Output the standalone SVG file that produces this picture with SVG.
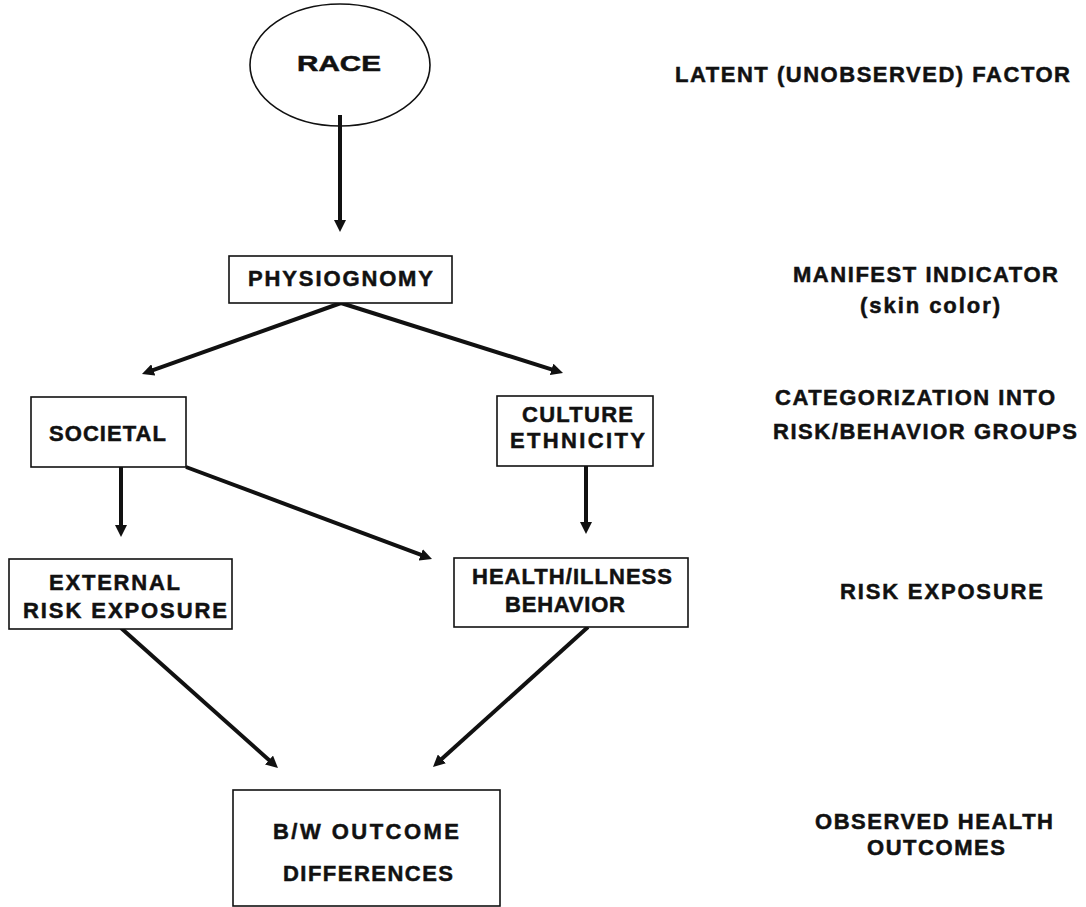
<svg xmlns="http://www.w3.org/2000/svg" width="1086" height="907" viewBox="0 0 1086 907">
<style>
  .box { fill: #fff; stroke: #111; stroke-width: 1.6; }
  .t { font-family: "Liberation Sans", Arial, sans-serif; font-weight: bold; font-size: 22px; fill: #111; stroke: #111; stroke-width: 0.5; }
  .c { text-anchor: middle; }
  .edge { stroke: #111; stroke-width: 4; fill: none; marker-end: url(#ah); }
</style>
<defs>
  <marker id="ah" viewBox="0 0 12 12" markerWidth="12" markerHeight="12" refX="4" refY="6" orient="auto" markerUnits="userSpaceOnUse">
    <path d="M0,0 L12,6 L0,12 z" fill="#111"/>
  </marker>
</defs>
<rect width="1086" height="907" fill="#fff"/>

<g id="connectors">
  <line class="edge" x1="340" y1="115" x2="340" y2="224"/>
  <line class="edge" x1="341" y1="303" x2="149.5" y2="371.3"/>
  <line class="edge" x1="341" y1="303" x2="555.4" y2="370.6"/>
  <line class="edge" x1="121" y1="467" x2="121" y2="529"/>
  <line class="edge" x1="186" y1="467" x2="424.5" y2="556.2"/>
  <line class="edge" x1="586" y1="466" x2="586" y2="526"/>
  <line class="edge" x1="121" y1="628" x2="272" y2="762.7"/>
  <line class="edge" x1="588" y1="627" x2="438.9" y2="761.6"/>
</g>

<g id="race">
  <ellipse cx="340" cy="65" rx="90" ry="61" fill="none" stroke="#111" stroke-width="1.6"/>
  <text class="t c" x="339" y="71" font-size="31" textLength="84" lengthAdjust="spacingAndGlyphs">RACE</text>
</g>

<g id="physiognomy">
  <rect class="box" x="229" y="256" width="223" height="47"/>
  <text class="t c" x="340.5" y="286" textLength="185" lengthAdjust="spacing">PHYSIOGNOMY</text>
</g>

<g id="societal">
  <rect class="box" x="31" y="397" width="155" height="70"/>
  <text class="t c" x="107.5" y="441" textLength="117" lengthAdjust="spacing">SOCIETAL</text>
</g>

<g id="culture">
  <rect class="box" x="497" y="396" width="156" height="70"/>
  <text class="t c" x="577.5" y="422" textLength="111" lengthAdjust="spacing">CULTURE</text>
  <text class="t c" x="577.5" y="448" textLength="135" lengthAdjust="spacing">ETHNICITY</text>
</g>

<g id="external">
  <rect class="box" x="9" y="559" width="223" height="70"/>
  <text class="t c" x="114.5" y="590" textLength="131" lengthAdjust="spacing">EXTERNAL</text>
  <text class="t c" x="125" y="618" textLength="204" lengthAdjust="spacing">RISK EXPOSURE</text>
</g>

<g id="health">
  <rect class="box" x="454" y="558" width="234" height="69"/>
  <text class="t c" x="572" y="584" textLength="200" lengthAdjust="spacing">HEALTH/ILLNESS</text>
  <text class="t c" x="565" y="612" textLength="120" lengthAdjust="spacing">BEHAVIOR</text>
</g>

<g id="outcome">
  <rect class="box" x="233" y="790" width="267" height="116"/>
  <text class="t c" x="366" y="839" textLength="186" lengthAdjust="spacing">B/W OUTCOME</text>
  <text class="t c" x="368" y="881" textLength="170" lengthAdjust="spacing">DIFFERENCES</text>
</g>

<g id="labels">
  <text class="t" x="675" y="82" textLength="395" lengthAdjust="spacing">LATENT (UNOBSERVED) FACTOR</text>
  <text class="t" x="793" y="282" textLength="265" lengthAdjust="spacing">MANIFEST INDICATOR</text>
  <text class="t" x="860" y="313" textLength="140" lengthAdjust="spacing">(skin color)</text>
  <text class="t" x="775" y="405" textLength="280" lengthAdjust="spacing">CATEGORIZATION INTO</text>
  <text class="t" x="773" y="439" textLength="304" lengthAdjust="spacing">RISK/BEHAVIOR GROUPS</text>
  <text class="t" x="840" y="599" textLength="203" lengthAdjust="spacing">RISK EXPOSURE</text>
  <text class="t" x="815" y="829" textLength="238" lengthAdjust="spacing">OBSERVED HEALTH</text>
  <text class="t" x="867" y="855" textLength="138" lengthAdjust="spacing">OUTCOMES</text>
</g>
</svg>
